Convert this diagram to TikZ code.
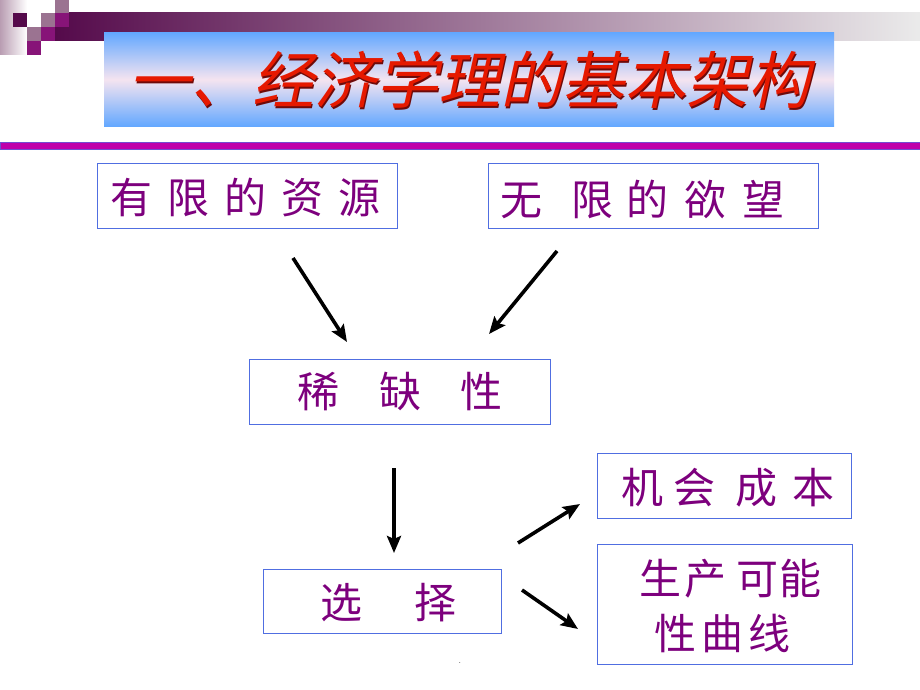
\documentclass[tikz,border=0pt]{standalone}
\usepackage{fontspec}
\usetikzlibrary{arrows.meta}
\newfontfamily\cjk{Noto Sans CJK SC}
\newfontfamily\cjktitle[FakeSlant=0.22]{Noto Sans CJK SC}
\definecolor{txtpurple}{RGB}{125,0,125}
\definecolor{boxblue}{RGB}{80,110,225}
\definecolor{titlered}{RGB}{230,25,0}
\definecolor{titleshadow}{RGB}{110,10,10}
\definecolor{bandmag}{RGB}{190,0,170}
\definecolor{sqdark}{RGB}{85,10,75}
\definecolor{sqmauve}{RGB}{155,115,145}
\definecolor{sqpurple}{RGB}{135,20,120}
\definecolor{skyblue}{RGB}{100,168,255}
\definecolor{skymid}{RGB}{245,228,240}
\tikzset{
  boxnode/.style={draw=boxblue, line width=1pt, fill=white, inner sep=0pt},
  cjktext/.style={anchor=base west, inner sep=0pt, text=txtpurple, font=\cjk\fontsize{42}{42}\selectfont},
  titletext/.style={anchor=base west, inner sep=0pt, font=\cjktitle\fontsize{62}{62}\selectfont},
  arr/.style={line width=3.6pt, -{Stealth[length=17pt,width=14pt,inset=3pt]}},
}
\begin{document}
\begin{tikzpicture}[x=1pt,y=-1pt]
\useasboundingbox (0,0) rectangle (920,690);
\fill[white] (0,0) rectangle (920,690);
% decoration top-left
\shade[left color=sqmauve!70, right color=white] (0,0) rectangle (27,55);
\shade[left color=sqdark, right color=black!8] (55,13) rectangle (920,41);
\fill[sqdark] (13,13) rectangle (27,27);
\fill[sqmauve] (55,0) rectangle (69,13);
\fill[sqmauve] (41,13) rectangle (55,27);
\fill[sqpurple] (55,13) rectangle (69,27);
\fill[sqmauve] (27,27) rectangle (41,41);
\fill[sqpurple] (41,27) rectangle (55,41);
\fill[sqpurple] (27,41) rectangle (41,55);
% title banner
\shade[top color=skyblue, bottom color=skyblue, middle color=skymid] (104,33) rectangle (834,126);
\node[titletext, text=titleshadow] (titleshade) at (129.5,105.5) {一、经济学理的基本架构};
\node[titletext, text=titlered] (title) at (128,104) {一、经济学理的基本架构};
% purple rule
\fill[bandmag, draw=boxblue!70!bandmag, line width=0.6pt] (0,142) rectangle (920,149);
% boxes
\node[boxnode, minimum width=300pt, minimum height=65pt] (res) at (247,195.5) {};
\node[boxnode, minimum width=330pt, minimum height=65pt] (want) at (653,195.5) {};
\node[boxnode, minimum width=301pt, minimum height=65pt] (scarce) at (399.5,391.5) {};
\node[boxnode, minimum width=238pt, minimum height=64pt] (choice) at (382,601) {};
\node[boxnode, minimum width=254pt, minimum height=65pt] (cost) at (724,485.5) {};
\node[boxnode, minimum width=255pt, minimum height=120pt] (ppf) at (724.5,604) {};
% texts
\node[cjktext] (t1) at (110.5,213) {有\hspace{15pt}限\hspace{15pt}的\hspace{15pt}资\hspace{15pt}源};
\node[cjktext] (t2) at (500,215) {无\hspace{29.5pt}限\hspace{13pt}的\hspace{15.5pt}欲\hspace{16.5pt}望};
\node[cjktext] (t3) at (297.5,407) {稀\hspace{39.5pt}缺\hspace{39.5pt}性};
\node[cjktext] (t4) at (320,618) {选\hspace{52pt}择};
\node[cjktext] (t5) at (621,503) {机\hspace{10pt}会\hspace{20pt}成\hspace{15pt}本};
\node[cjktext] (t6) at (639.5,594) {生\hspace{2.5pt}产\hspace{10pt}可\hspace{1pt}能};
\node[cjktext] (t7) at (654.5,649) {性\hspace{5pt}曲\hspace{5pt}线};
% arrow ends
\coordinate (a1s) at (293,258); \coordinate (a1e) at (347,342);
\coordinate (a2s) at (557,251); \coordinate (a2e) at (489,334);
\coordinate (a3s) at (394,468); \coordinate (a3e) at (394,553);
\coordinate (a4s) at (518,543); \coordinate (a4e) at (580,504);
\coordinate (a5s) at (522,590); \coordinate (a5e) at (578,629);
\draw[arr] (a1s) -- (a1e);
\draw[arr] (a2s) -- (a2e);
\draw[arr] (a3s) -- (a3e);
\draw[arr] (a4s) -- (a4e);
\draw[arr] (a5s) -- (a5e);
% small dot
\node[inner sep=0pt, font=\fontsize{9}{9}\selectfont] (dot) at (460,663) {.};
\end{tikzpicture}
\end{document}
